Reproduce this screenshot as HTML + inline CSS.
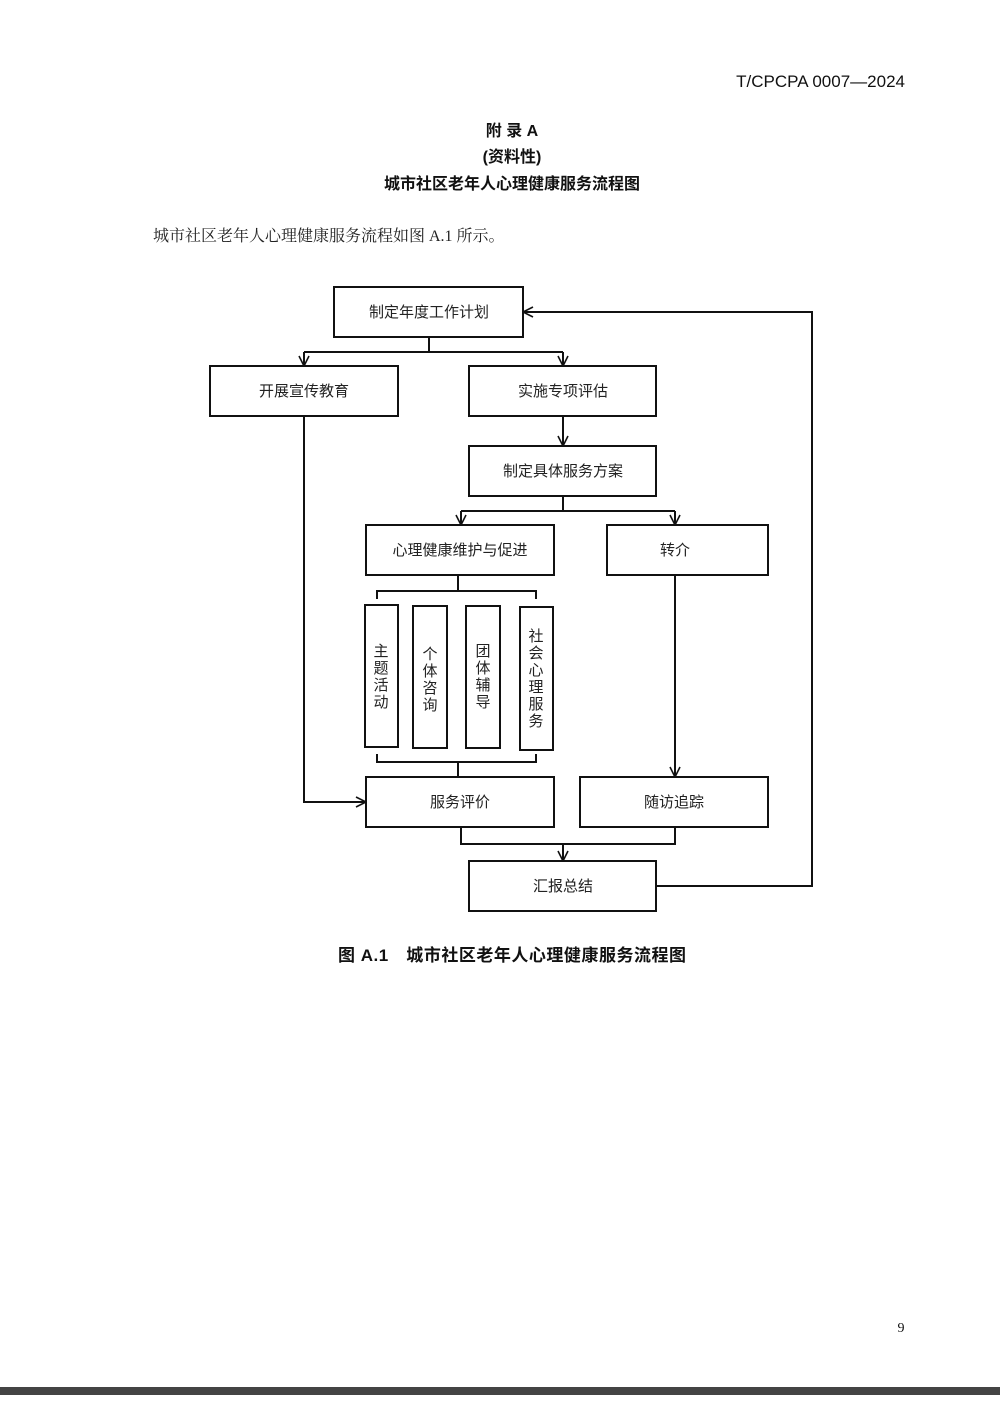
<!DOCTYPE html>
<html><head><meta charset="utf-8"><style>
html,body{margin:0;padding:0;background:#fff;}
body{width:1000px;height:1401px;overflow:hidden;position:relative;}
svg{position:absolute;left:0;top:0;}
</style></head><body>
<svg width="1000" height="1401" viewBox="0 0 1000 1401" xmlns="http://www.w3.org/2000/svg">
<defs><marker id="a" viewBox="0 0 12 12" refX="11" refY="6" markerWidth="12" markerHeight="12" markerUnits="userSpaceOnUse" orient="auto"><path d="M1,1 L11,6 L1,11" fill="none" stroke="#111" stroke-width="1.6"/></marker></defs>
<g font-family="'Liberation Sans','Noto Sans CJK SC',sans-serif" fill="#111">
<text x="905" y="87" font-size="17" text-anchor="end">T/CPCPA  0007—2024</text>
<text x="512" y="136" font-size="16" font-weight="bold" text-anchor="middle">附 录 A</text>
<text x="512" y="162" font-size="16" font-weight="bold" text-anchor="middle">(资料性)</text>
<text x="512" y="189" font-size="16" font-weight="bold" text-anchor="middle">城市社区老年人心理健康服务流程图</text>
</g>
<text x="153" y="241" font-size="16" font-family="'Liberation Serif','Noto Serif CJK SC',serif" fill="#222">城市社区老年人心理健康服务流程如图 A.1 所示。</text>
<g fill="#fff" stroke="#111" stroke-width="2">
<rect x="334" y="287" width="189" height="50"/>
<rect x="210" y="366" width="188" height="50"/>
<rect x="469" y="366" width="187" height="50"/>
<rect x="469" y="446" width="187" height="50"/>
<rect x="366" y="525" width="188" height="50"/>
<rect x="607" y="525" width="161" height="50"/>
<rect x="365" y="605" width="33" height="142"/>
<rect x="413" y="606" width="34" height="142"/>
<rect x="466" y="606" width="34" height="142"/>
<rect x="520" y="607" width="33" height="143"/>
<rect x="366" y="777" width="188" height="50"/>
<rect x="580" y="777" width="188" height="50"/>
<rect x="469" y="861" width="187" height="50"/>
</g>
<g fill="none" stroke="#111" stroke-width="2">
<path d="M429,337 V352 M304,352 H563"/>
<path d="M304,352 V366" marker-end="url(#a)"/>
<path d="M563,352 V366" marker-end="url(#a)"/>
<path d="M563,416 V446" marker-end="url(#a)"/>
<path d="M563,496 V511 M461,511 H675"/>
<path d="M461,511 V525" marker-end="url(#a)"/>
<path d="M675,511 V525" marker-end="url(#a)"/>
<path d="M458,575 V591 M377,599 V591 H536 V599"/>
<path d="M377,754 V762 H536 V754 M458,762 V777"/>
<path d="M304,416 V802 H366" marker-end="url(#a)"/>
<path d="M675,575 V777" marker-end="url(#a)"/>
<path d="M461,827 V844 H675 V827"/>
<path d="M563,844 V861" marker-end="url(#a)"/>
<path d="M656,886 H812 V312 H523" marker-end="url(#a)"/>
</g>
<g font-family="'Liberation Sans','Noto Sans CJK SC',sans-serif" font-size="15" fill="#222" text-anchor="middle">
<text x="429" y="317">制定年度工作计划</text>
<text x="304" y="396">开展宣传教育</text>
<text x="563" y="396">实施专项评估</text>
<text x="563" y="476">制定具体服务方案</text>
<text x="460" y="555">心理健康维护与促进</text>
<text x="675" y="555">转介</text>
<text x="460" y="807">服务评价</text>
<text x="674" y="807">随访追踪</text>
<text x="563" y="891">汇报总结</text>
<g font-size="15">
<text x="381" y="656">主</text><text x="381" y="673">题</text><text x="381" y="690">活</text><text x="381" y="707">动</text>
<text x="430" y="659">个</text><text x="430" y="676">体</text><text x="430" y="693">咨</text><text x="430" y="710">询</text>
<text x="483" y="656">团</text><text x="483" y="673">体</text><text x="483" y="690">辅</text><text x="483" y="707">导</text>
<text x="536" y="641">社</text><text x="536" y="658">会</text><text x="536" y="675">心</text><text x="536" y="692">理</text><text x="536" y="709">服</text><text x="536" y="726">务</text>
</g>
</g>
<text x="338" y="961" font-family="'Liberation Sans','Noto Sans CJK SC',sans-serif" font-size="17" font-weight="bold" fill="#111" textLength="348" lengthAdjust="spacing">图 A.1　城市社区老年人心理健康服务流程图</text>
<text x="901" y="1332" font-family="'Liberation Serif',serif" font-size="14" fill="#111" text-anchor="middle">9</text>
<rect x="0" y="1387" width="1000" height="8" fill="#444"/>
</svg>
</body></html>
